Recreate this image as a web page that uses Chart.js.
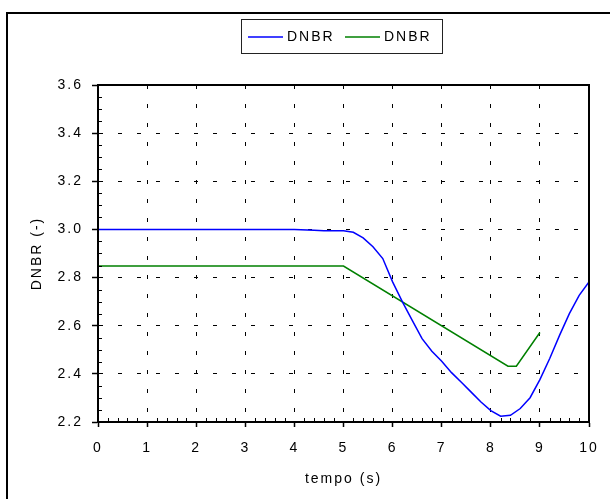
<!DOCTYPE html>
<html><head><meta charset="utf-8">
<script src="https://cdn.jsdelivr.net/npm/chart.js@4/dist/chart.umd.min.js"></script>
<style>html,body{margin:0;padding:0;background:#fff;}canvas{display:block;}</style>
</head><body>
<canvas id="c" width="610" height="499"></canvas>
<script>
// ---- data ----
const seriesLabels = ['DNBR', 'DNBR'];
const blueTime = [0, 1, 2, 3, 4, 4.4, 4.6, 5.0, 5.2, 5.4, 5.6, 5.8, 6.0, 6.2, 6.4, 6.6, 6.8, 7.0, 7.2, 7.4, 7.6, 7.8, 8.0, 8.2, 8.4, 8.6, 8.8, 9.0, 9.2, 9.4, 9.6, 9.8, 10.0];
const blueDNBR = [3.0, 3.0, 3.0, 3.0, 3.0, 2.997, 2.995, 2.994, 2.988, 2.965, 2.928, 2.879, 2.782, 2.699, 2.622, 2.546, 2.494, 2.452, 2.405, 2.365, 2.324, 2.283, 2.247, 2.224, 2.228, 2.256, 2.301, 2.376, 2.464, 2.560, 2.650, 2.726, 2.782];
const greenTime = [0, 5.0, 8.35, 8.52, 9.0];
const greenDNBR = [2.848, 2.848, 2.432, 2.432, 2.572];
const xTickValues = [0, 1, 2, 3, 4, 5, 6, 7, 8, 9, 10];
const yTickValues = [2.2, 2.4, 2.6, 2.8, 3.0, 3.2, 3.4, 3.6];
const xTitle = 'tempo (s)';
const yTitle = 'DNBR (-)';

const toPts = (xs, ys) => xs.map((x, i) => ({x: x, y: ys[i]}));
const FONT = "'Liberation Sans', Arial, sans-serif";
Chart.defaults.font.family = FONT;
Chart.defaults.font.size = 14;
Chart.defaults.color = '#000';

const framePlugin = {
  id: 'frame',
  beforeDraw(chart) {
    const ctx = chart.ctx;
    ctx.save();
    ctx.fillStyle = '#fff';
    ctx.fillRect(0, 0, chart.width, chart.height);
    ctx.strokeStyle = '#000';
    ctx.lineWidth = 2;
    ctx.beginPath();
    ctx.moveTo(7, 520); ctx.lineTo(7, 13); ctx.lineTo(640, 13);
    ctx.stroke();
    ctx.restore();
    ctx.letterSpacing = '2px';
  },
  afterDraw(chart) {
    const ctx = chart.ctx;
    const a = chart.chartArea;
    const xs = chart.scales.x, ys = chart.scales.y;
    ctx.save();
    ctx.letterSpacing = '0px';
    // solid plot frame
    ctx.strokeStyle = '#000';
    ctx.lineWidth = 2;
    ctx.strokeRect(a.left, a.top, a.right - a.left, a.bottom - a.top);
    // minor ticks (inward)
    ctx.lineWidth = 1;
    ctx.beginPath();
    for (let i = 1; i < 50; i++) {
      if (i % 5 === 0) continue;
      const px = Math.round(xs.getPixelForValue(i * 0.2)) + 0.5;
      ctx.moveTo(px, a.bottom); ctx.lineTo(px, a.bottom - 4);
    }
    for (let i = 1; i < 28; i++) {
      if (i % 4 === 0) continue;
      const py = Math.round(ys.getPixelForValue(2.2 + i * 0.05)) + 0.5;
      ctx.moveTo(a.left, py); ctx.lineTo(a.left + 4, py);
    }
    ctx.stroke();
    // legend
    ctx.lineWidth = 1;
    ctx.strokeStyle = '#222';
    ctx.strokeRect(241.5, 19.5, 201, 34);
    ctx.letterSpacing = '2px';
    ctx.font = '14px ' + FONT;
    ctx.fillStyle = '#000';
    ctx.textBaseline = 'middle';
    ctx.textAlign = 'left';
    const items = [[248, 287], [345, 384]];
    chart.data.datasets.forEach((ds, i) => {
      ctx.strokeStyle = ds.borderColor;
      ctx.lineWidth = 1.5;
      ctx.beginPath();
      ctx.moveTo(items[i][0], 37); ctx.lineTo(items[i][0] + 35, 37);
      ctx.stroke();
      ctx.fillText(ds.label, items[i][1], 37);
    });
    ctx.restore();
  }
};

new Chart(document.getElementById('c'), {
  type: 'line',
  data: {
    datasets: [
      {label: seriesLabels[0], data: toPts(blueTime, blueDNBR), borderColor: '#0000ff', borderWidth: 1.5, pointRadius: 0, tension: 0, fill: false},
      {label: seriesLabels[1], data: toPts(greenTime, greenDNBR), borderColor: '#008000', borderWidth: 1.5, pointRadius: 0, tension: 0, fill: false}
    ]
  },
  options: {
    responsive: false,
    animation: false,
    events: [],
    layout: {padding: {top: 85, right: 21, left: 0, bottom: 0}},
    plugins: {legend: {display: false}, tooltip: {enabled: false}},
    scales: {
      x: {
        type: 'linear', min: 0, max: 10,
        afterBuildTicks: (s) => { s.ticks = xTickValues.map(v => ({value: v})); },
        afterFit: (s) => { s.height = 77; },
        ticks: {color: '#000', padding: 13, maxRotation: 0, autoSkip: false, font: {size: 14}},
        grid: {color: '#000', lineWidth: 1, drawTicks: true, tickLength: 5, tickColor: '#000', tickWidth: 1.5, tickBorderDash: []},
        border: {display: true, color: '#000', width: 2, dash: [4, 15]},
        title: {display: true, text: xTitle, color: '#000', font: {size: 14}, padding: {top: 0, bottom: 11}}
      },
      y: {
        type: 'linear', min: 2.2, max: 3.6,
        afterBuildTicks: (s) => { s.ticks = yTickValues.map(v => ({value: v})); },
        afterFit: (s) => { s.width = 98; },
        ticks: {color: '#000', padding: 9, font: {size: 14}, callback: (v) => Number(v).toFixed(1)},
        grid: {color: '#000', lineWidth: 1, drawTicks: true, tickLength: 6, tickColor: '#000', tickWidth: 1.5, tickBorderDash: []},
        border: {display: true, color: '#000', width: 2, dash: [4, 15]},
        title: {display: true, text: yTitle, color: '#000', font: {size: 14}, padding: {top: 29, bottom: 0}}
      }
    }
  },
  plugins: [framePlugin]
});
</script>
</body></html>
